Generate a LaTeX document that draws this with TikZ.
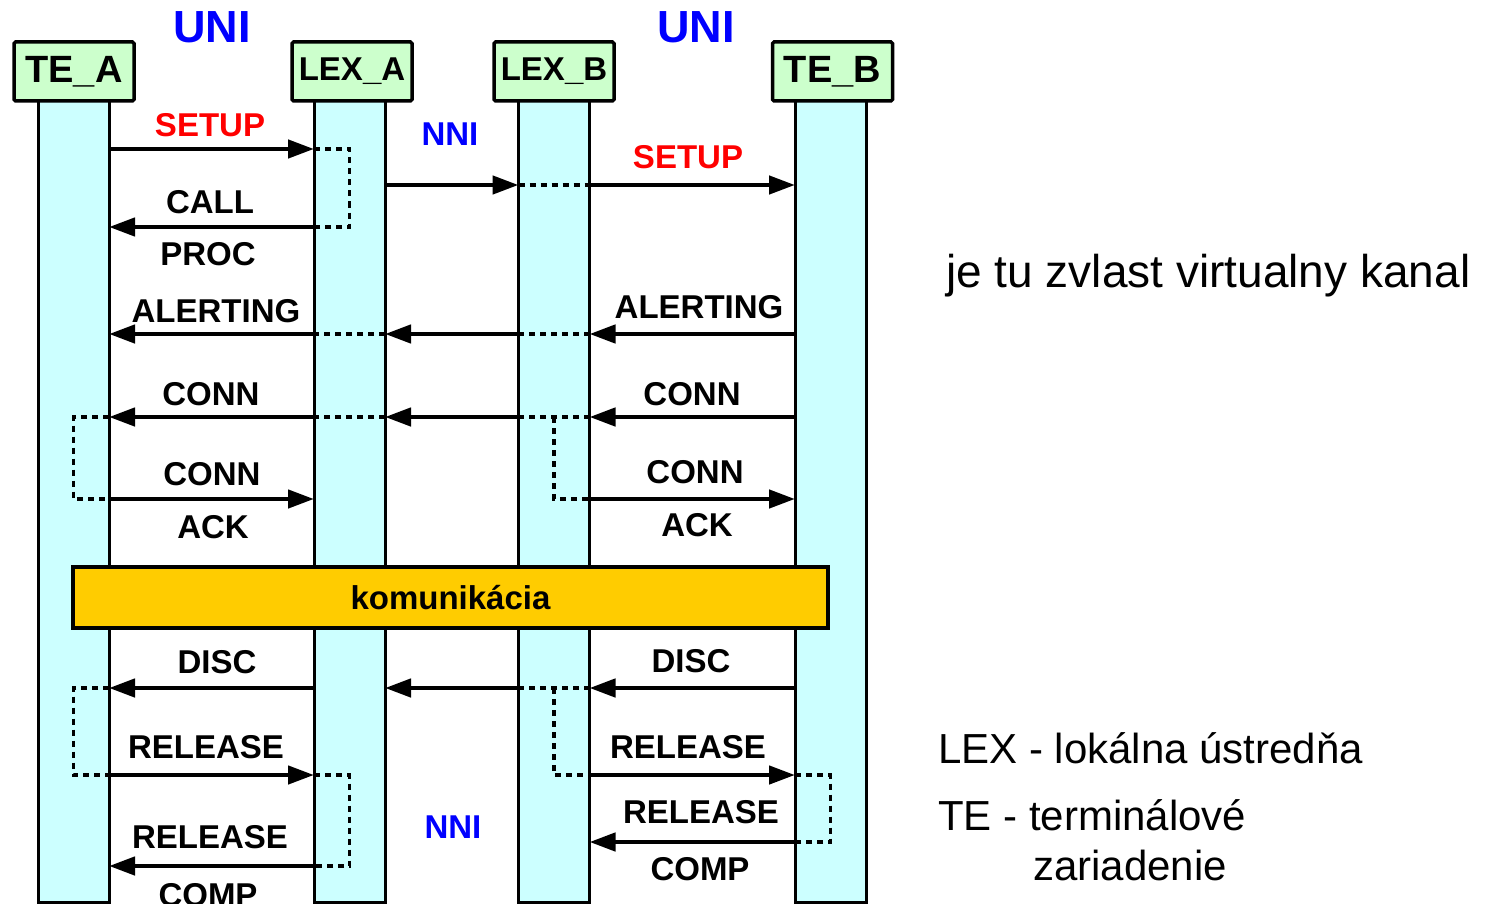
\documentclass[tikz,border=0pt]{standalone}
\usepackage{fontspec}
\setmainfont{Liberation Sans}
\usetikzlibrary{positioning,calc,arrows.meta}

\definecolor{headgreen}{HTML}{CCFFCC}
\definecolor{lifecyan}{HTML}{CCFFFF}
\definecolor{commyellow}{HTML}{FFCC00}

\tikzset{
  header/.style={draw, line width=3.5pt, fill=headgreen, rounded corners=1.5pt,
    minimum width=120pt, minimum height=59pt, inner sep=0pt, outer sep=0pt},
  lifeline/.style={draw, line width=3pt, fill=lifecyan, anchor=north,
    minimum width=71pt, minimum height=801pt, inner sep=0pt, outer sep=0pt},
  msg/.style={line width=4.5pt, -{Triangle[length=26pt,width=18pt]}},
  loopback/.style={line width=3.5pt, dash pattern=on 6pt off 5pt},
  lbl/.style={anchor=base, inner sep=0pt, font=\fontsize{33}{36}\selectfont\bfseries},
  iface/.style={anchor=base, inner sep=0pt, text=blue},
  note/.style={anchor=base west, inner sep=0pt, font=\fontsize{42}{46}\selectfont}
}

\begin{document}
\begin{tikzpicture}[x=1pt, y=-1pt]
    \useasboundingbox (0,0) rectangle (1490,904);

    % Lifelines
    \node [lifeline] (teA) at (73.5,101) {};
    \node [lifeline] (lexA) at (349.5,101) {};
    \node [lifeline] (lexB) at (554,101) {};
    \node [lifeline] (teB) at (830.5,101) {};

    % Headers
    \node [header, font=\fontsize{38}{40}\selectfont\bfseries] (teAh) at (74,71.5) {TE\_A};
    \node [header, font=\fontsize{33}{36}\selectfont\bfseries] (lexAh) at (352,71.5) {LEX\_A};
    \node [header, font=\fontsize{33}{36}\selectfont\bfseries] (lexBh) at (554,71.5) {LEX\_B};
    \node [header, font=\fontsize{38}{40}\selectfont\bfseries] (teBh) at (832.5,71.5) {TE\_B};

    \node [iface, font=\fontsize{45}{48}\selectfont\bfseries] (uniA) at (212,43) {UNI};
    \node [iface, font=\fontsize{45}{48}\selectfont\bfseries] (uniB) at (696,43) {UNI};
    \node [iface, font=\fontsize{33}{36}\selectfont\bfseries] (nniTop) at (450,146) {NNI};
    \node [iface, font=\fontsize{33}{36}\selectfont\bfseries] (nniBot) at (453,838) {NNI};

    % Message levels
    \foreach \n/\y in {setup/149, nni/185, callproc/227, alert/334, conn/417,
                       ack/499, disc/688, rel/775, relcompB/842, relcompA/866}
        \coordinate (r\n) at (0,\y);

    % Call set-up
    \draw [msg] (teA.east |- rsetup) -- (lexA.west |- rsetup);
    \draw [loopback] (lexA.west |- rsetup) -| (lexA.center |- rcallproc) -- (lexA.west |- rcallproc);
    \draw [msg] (lexA.west |- rcallproc) -- (teA.east |- rcallproc);
    \draw [msg] (lexA.east |- rnni) -- (lexB.west |- rnni);
    \draw [loopback] (lexB.west |- rnni) -- (lexB.east |- rnni);
    \draw [msg] (lexB.east |- rnni) -- (teB.west |- rnni);

    \draw [msg] (teB.west |- ralert) -- (lexB.east |- ralert);
    \draw [loopback] (lexB.east |- ralert) -- (lexB.west |- ralert);
    \draw [msg] (lexB.west |- ralert) -- (lexA.east |- ralert);
    \draw [loopback] (lexA.east |- ralert) -- (lexA.west |- ralert);
    \draw [msg] (lexA.west |- ralert) -- (teA.east |- ralert);

    \draw [msg] (teB.west |- rconn) -- (lexB.east |- rconn);
    \draw [loopback] (lexB.east |- rconn) -- (lexB.west |- rconn);
    \draw [loopback] (lexB.center |- rconn) |- (lexB.east |- rack);
    \draw [msg] (lexB.west |- rconn) -- (lexA.east |- rconn);
    \draw [loopback] (lexA.east |- rconn) -- (lexA.west |- rconn);
    \draw [msg] (lexA.west |- rconn) -- (teA.east |- rconn);
    \draw [loopback] (teA.east |- rconn) -| (teA.center |- rack) -- (teA.east |- rack);

    \draw [msg] (teA.east |- rack) -- (lexA.west |- rack);
    \draw [msg] (lexB.east |- rack) -- (teB.west |- rack);

    % Communication phase
    \node [draw, line width=3.5pt, fill=commyellow, minimum width=755pt, minimum height=61pt,
           inner sep=0pt, font=\fontsize{33}{36}\selectfont\bfseries] (komm) at (450.5,597.5) {komunikácia};

    % Release
    \draw [msg] (teB.west |- rdisc) -- (lexB.east |- rdisc);
    \draw [loopback] (lexB.east |- rdisc) -- (lexB.west |- rdisc);
    \draw [loopback] (lexB.center |- rdisc) |- (lexB.east |- rrel);
    \draw [msg] (lexB.west |- rdisc) -- (lexA.east |- rdisc);
    \draw [msg] (lexA.west |- rdisc) -- (teA.east |- rdisc);
    \draw [loopback] (teA.east |- rdisc) -| (teA.center |- rrel) -- (teA.east |- rrel);

    \draw [msg] (teA.east |- rrel) -- (lexA.west |- rrel);
    \draw [loopback] (lexA.west |- rrel) -| (lexA.center |- rrelcompA) -- (lexA.west |- rrelcompA);
    \draw [msg] (lexA.west |- rrelcompA) -- (teA.east |- rrelcompA);

    \draw [msg] (lexB.east |- rrel) -- (teB.west |- rrel);
    \draw [loopback] (teB.west |- rrel) -| (teB.center |- rrelcompB) -- (teB.west |- rrelcompB);
    \draw [msg] (teB.west |- rrelcompB) -- (lexB.east |- rrelcompB);

    % Labels
    \node [lbl, text=red] (setupA) at (210,137) {SETUP};
    \node [lbl, text=red] (setupB) at (688,168) {SETUP};
    \node [lbl] (callA) at (210,214) {CALL};
    \node [lbl] (procA) at (208,265) {PROC};
    \node [lbl] (alertA) at (216,322) {ALERTING};
    \node [lbl] (alertB) at (699,318) {ALERTING};
    \node [lbl] (connA) at (211,405) {CONN};
    \node [lbl] (connB) at (692,405) {CONN};
    \node [lbl] (connAckA) at (212,485) {CONN};
    \node [lbl] (connAckB) at (695,483) {CONN};
    \node [lbl] (ackA) at (213,538) {ACK};
    \node [lbl] (ackB) at (697,536) {ACK};
    \node [lbl] (discA) at (217,673) {DISC};
    \node [lbl] (discB) at (691,672) {DISC};
    \node [lbl] (relA) at (206,758) {RELEASE};
    \node [lbl] (relB) at (688,758) {RELEASE};
    \node [lbl] (relCompA) at (210,848) {RELEASE};
    \node [lbl] (compA) at (208,906) {COMP};
    \node [lbl] (relCompB) at (701,823) {RELEASE};
    \node [lbl] (compB) at (700,880) {COMP};

    % Notes
    \node [note, font=\fontsize{46}{50}\selectfont] (noteVc) at (946,287) {je tu zvlast virtualny kanal};
    \node [note] (noteLex) at (938,763) {LEX - lokálna ústredňa};
    \node [note] (noteTe) at (938,830) {TE - terminálové};
    \node [note] (noteTeCont) at (1033,880) {zariadenie};
\end{tikzpicture}
\end{document}
